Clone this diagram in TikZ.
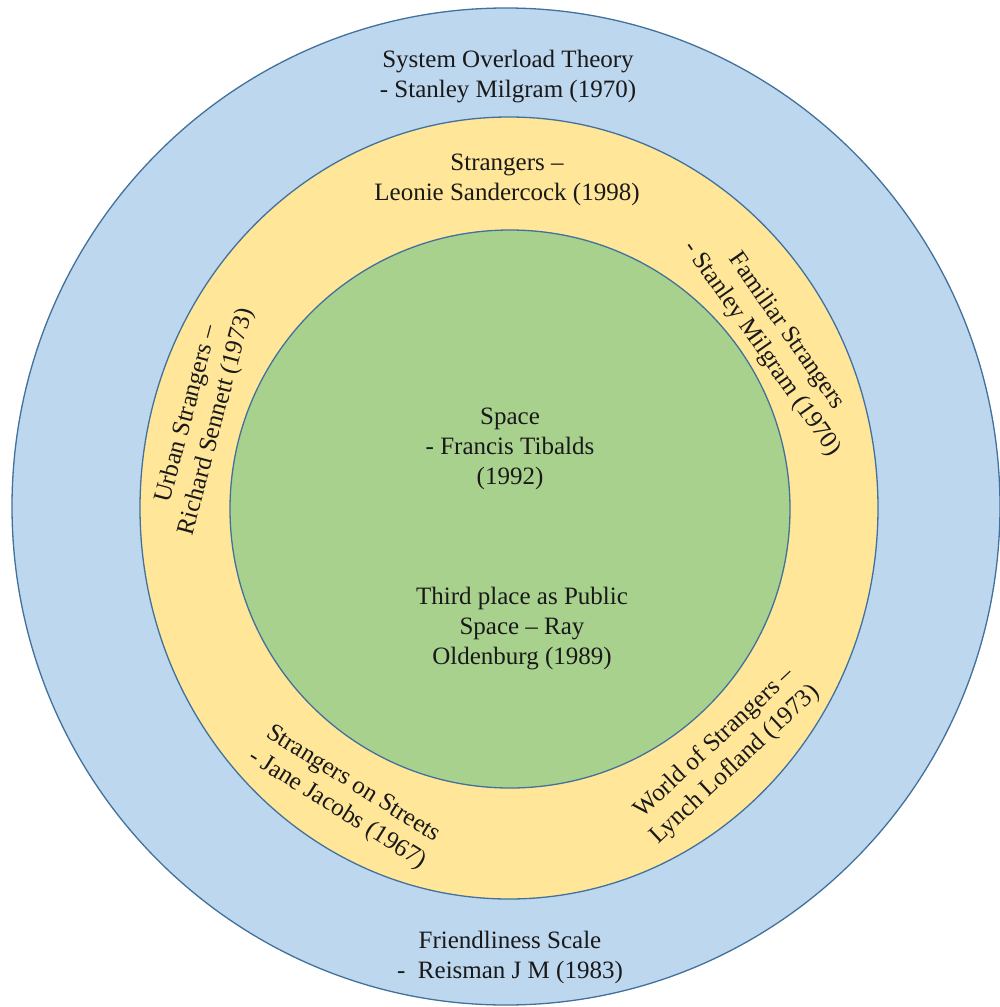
\documentclass[tikz,border=0pt]{standalone}
\usepackage{fontspec}
\setmainfont{Liberation Serif}
\definecolor{outerblue}{HTML}{BDD7EE}
\definecolor{midyellow}{HTML}{FFE699}
\definecolor{innergreen}{HTML}{A9D18E}
\definecolor{ringline}{HTML}{41719C}
\begin{document}
\begin{tikzpicture}[x=1pt,y=-1pt,
  ring/.style={draw=ringline,line width=1.3pt},
  lbl/.style={align=center,inner sep=0pt,font=\fontsize{25}{30}\selectfont,text=black!90}]
\useasboundingbox (0,0) rectangle (999,1007);
\fill[white] (0,0) rectangle (999,1007);
\draw[ring,fill=outerblue] (506,506.5) ellipse [x radius=494pt,y radius=498.5pt];
\draw[ring,fill=midyellow] (509,508) ellipse [x radius=369pt,y radius=391pt];
\draw[ring,fill=innergreen] (510,509) ellipse [x radius=280pt,y radius=279pt];
\node[lbl] (overload) at (508,77) {System Overload Theory\\- Stanley Milgram (1970)};
\node[lbl] (sandercock) at (507,180) {Strangers –\\Leonie Sandercock (1998)};
\node[lbl,rotate=75] (sennett) at (202,418) {Urban Strangers –\\Richard Sennett (1973)};
\node[lbl,rotate=-55] (familiar) at (774,340) {Familiar Strangers\\- Stanley Milgram (1970)};
\node[lbl] (tibalds) at (510,449) {Space\\- Francis Tibalds\\(1992)};
\node[lbl] (oldenburg) at (522,629) {Third place as Public\\Space – Ray\\Oldenburg (1989)};
\node[lbl,rotate=-32] (jacobs) at (345,797) {Strangers on Streets\\- Jane Jacobs (1967)};
\node[lbl,rotate=43] (lofland) at (725,754) {World of Strangers –\\Lynch Lofland (1973)};
\node[lbl] (reisman) at (510,957) {Friendliness Scale\\-\ \ Reisman J M (1983)};
\end{tikzpicture}
\end{document}
